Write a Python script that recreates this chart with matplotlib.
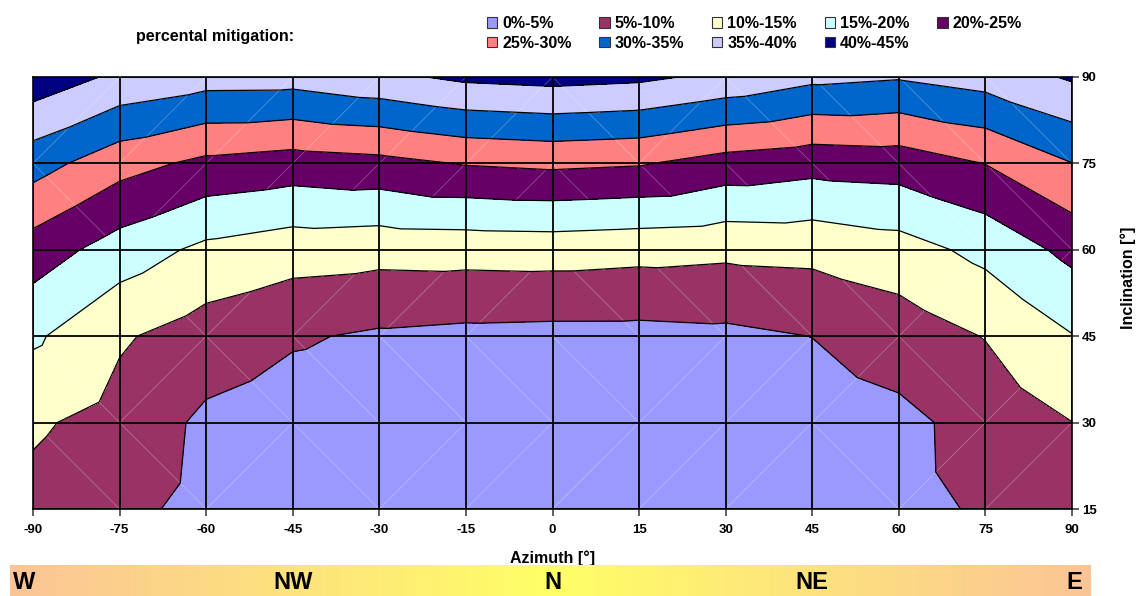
import numpy as np
import matplotlib
matplotlib.use("Agg")
import matplotlib.pyplot as plt
import matplotlib.tri as mtri
from matplotlib.patches import Patch
from matplotlib.transforms import blended_transform_factory

plt.rcParams['font.family'] = ['Liberation Sans', 'DejaVu Sans']
plt.rcParams['font.weight'] = 'bold'
plt.rcParams['axes.unicode_minus'] = False

# Orientation grid
azimuth = [-90, -75, -60, -45, -30, -15, 0, 15, 30, 45, 60, 75, 90]
inclination = [15, 30, 45, 60, 75, 90]

# Percental mitigation, one row per inclination, one value per azimuth
mitigation_15 = [8.5, 6.27, 3.63, 1.5, 1.0, 0.8, 0.7, 0.8, 1.0, 1.5, 3.71, 5.52, 7.5]
mitigation_30 = [10.7, 8.2, 4.03, 2.54, 2.0, 1.8, 1.7, 1.8, 2.0, 2.5, 3.8, 6.73, 9.95]
mitigation_45 = [15.8, 10.6, 7.64, 5.54, 4.31, 3.74, 3.52, 3.5, 3.9, 5.05, 7.3, 10.2, 14.8]
mitigation_60 = [22.7, 17.7, 13.85, 12.2, 11.7, 11.9, 12.1, 11.6, 11.1, 11.4, 12.9, 16.4, 21.4]
mitigation_75 = [32.1, 26.9, 23.8, 22.7, 23.5, 25.3, 26.0, 25.4, 23.0, 21.8, 22.3, 25.1, 29.9]
mitigation_90 = [43.2, 39.0, 37.1, 37.0, 38.8, 41.0, 41.7, 41.0, 38.8, 36.25, 35.4, 37.1, 40.6]

levels = [0, 5, 10, 15, 20, 25, 30, 35, 40, 45]
band_labels = ['0%-5%', '5%-10%', '10%-15%', '15%-20%', '20%-25%',
               '25%-30%', '30%-35%', '35%-40%', '40%-45%']
band_colors = ['#9999FF', '#993366', '#FFFFCC', '#CCFFFF', '#660066',
               '#FF8080', '#0066CC', '#CCCCFF', '#000080']

compass = ['W', 'NW', 'N', 'NE', 'E']
compass_azimuth = [-90, -45, 0, 45, 90]

# ---- build a triangulated surface (each cell split along one diagonal)
z = np.array([mitigation_15, mitigation_30, mitigation_45,
              mitigation_60, mitigation_75, mitigation_90], dtype=float)
AZ, INC = np.meshgrid(azimuth, inclination)
nx, ny = len(azimuth), len(inclination)
zf = z.ravel()
triangles = []
for j in range(ny - 1):
    for i in range(nx - 1):
        bl, br = j * nx + i, j * nx + i + 1
        tl, tr = (j + 1) * nx + i, (j + 1) * nx + i + 1
        if zf[bl] + zf[tr] >= zf[tl] + zf[br]:
            triangles += [[bl, br, tr], [bl, tr, tl]]
        else:
            triangles += [[bl, br, tl], [br, tr, tl]]
tri = mtri.Triangulation(AZ.ravel().astype(float), INC.ravel().astype(float), triangles)

W, H = 1138, 596
fig = plt.figure(figsize=(W / 100, H / 100), dpi=100)
ax = fig.add_axes([33 / W, 1 - 509 / H, (1072 - 33) / W, (509 - 77) / H])

ax.tricontourf(tri, zf, levels=levels, colors=band_colors, zorder=1)
ax.triplot(tri, color='white', alpha=0.35, linewidth=0.5, zorder=2)
ax.tricontour(tri, zf, levels=levels[1:-1], colors='black', linewidths=0.9, zorder=3)

ax.set_xlim(-90, 90)
ax.set_ylim(15, 90)
ax.set_xticks(range(-90, 91, 15))
ax.set_yticks(range(15, 91, 15))
ax.yaxis.tick_right()
ax.grid(True, color='black', linewidth=1.3, zorder=4)
ax.set_axisbelow(False)
for sp in ax.spines.values():
    sp.set_linewidth(1.2)
    sp.set_zorder(5)
ax.tick_params(axis='both', labelsize=9.5, length=5, width=1.2, color='#444444')
ax.tick_params(axis='x', pad=6)
ax.tick_params(axis='y', pad=2)
for lab in ax.get_xticklabels() + ax.get_yticklabels():
    lab.set_fontweight('bold')

# axis titles
fig.text(553 / W, 1 - 563 / H, 'Azimuth [°]', ha='center', va='baseline',
         fontsize=11.5, fontweight='bold', zorder=-1)
fig.text(1128 / W, 1 - 278 / H, 'Inclination [°]', ha='center', va='center',
         rotation=90, fontsize=11.5, fontweight='bold')

# legend
fig.text(215 / W, 1 - 37 / H, 'percental mitigation:', ha='center', va='center',
         fontsize=11.5, fontweight='bold')
handles = [Patch(facecolor=c, edgecolor='#333333', linewidth=0.8, label=l)
           for c, l in zip(band_colors, band_labels)]
order = [0, 5, 1, 6, 2, 7, 3, 8, 4]
fig.legend([handles[k] for k in order], [band_labels[k] for k in order],
           ncol=5, loc='upper left', bbox_to_anchor=(479 / W, 1 - 8 / H),
           frameon=False, borderpad=0, handlelength=0.65, handleheight=0.65,
           handletextpad=0.3, columnspacing=1.75, labelspacing=0.3,
           prop={'size': 11.5, 'weight': 'bold'})

# compass bar
bar = fig.add_axes([10 / W, 0, (1091 - 10) / W, 31 / H])
left = np.array([251, 196, 150]) / 255
mid = np.array([255, 255, 102]) / 255
t = np.abs(np.linspace(-1, 1, 600))[None, :, None]
grad = mid + (left - mid) * t
bar.imshow(grad, aspect='auto', extent=[0, 1, 0, 1])
bar.set_xlim(0, 1)
bar.set_ylim(0, 1)
bar.axis('off')
trans = blended_transform_factory(ax.transData, bar.transAxes)
for name, az in zip(compass, compass_azimuth):
    if az == compass_azimuth[0]:
        bar.text(0.003, 0.42, name, ha='left', va='center', fontsize=17,
                 fontweight='bold', transform=bar.transAxes)
    elif az == compass_azimuth[-1]:
        bar.text(0.992, 0.42, name, ha='right', va='center', fontsize=17,
                 fontweight='bold', transform=bar.transAxes)
    else:
        bar.text(az, 0.42, name, ha='center', va='center', fontsize=17,
                 fontweight='bold', transform=trans)

fig.savefig('out.png', dpi=100)
